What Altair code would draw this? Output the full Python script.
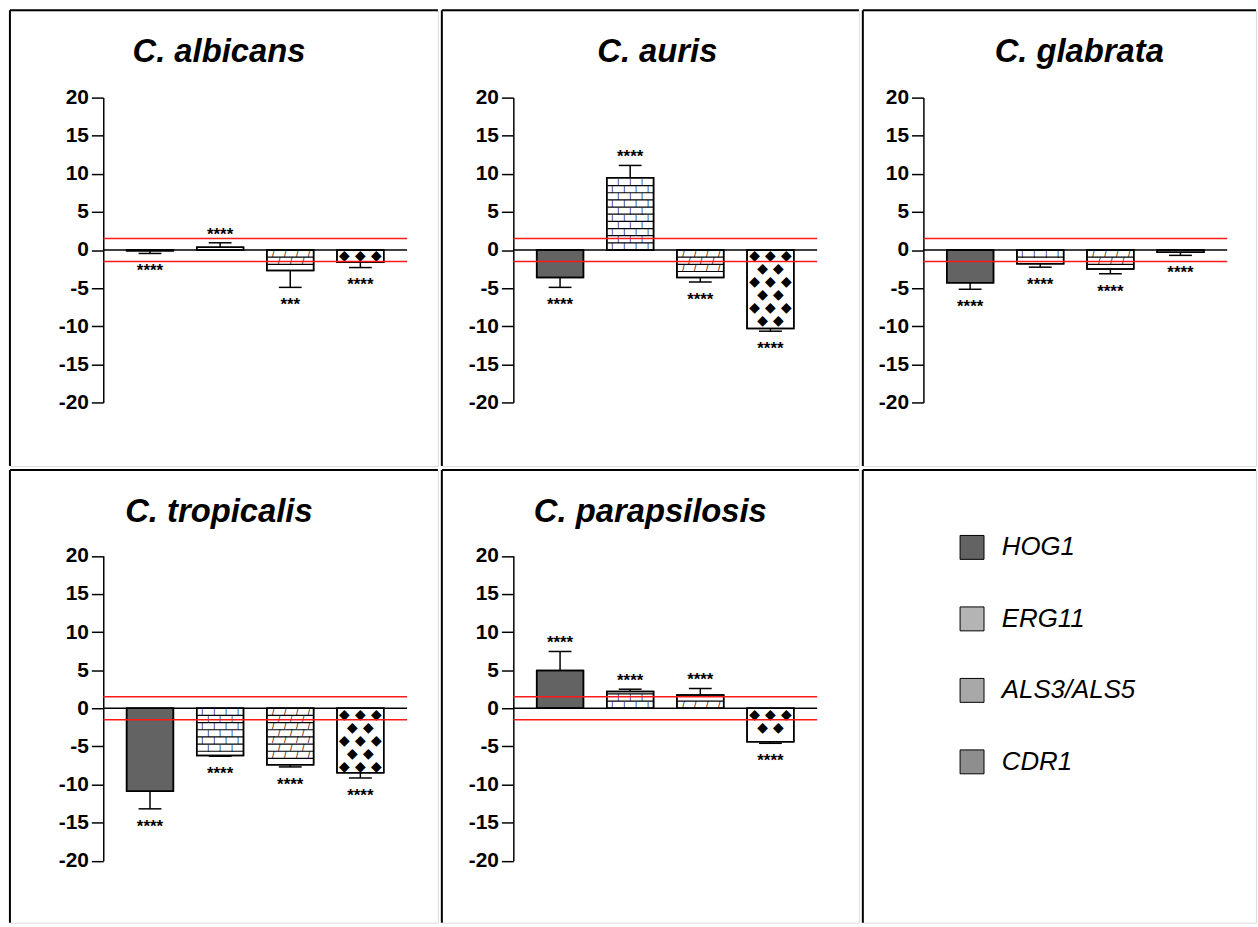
import altair as alt
import pandas as pd

# ---------------- data ----------------
GENES = ["HOG1", "ERG11", "ALS3/ALS5", "CDR1"]

albicans_mean = [-0.1, 0.35, -2.7, -1.6]
albicans_sd = [0.35, 0.6, 2.2, 0.7]
albicans_sig = ["****", "****", "***", "****"]

auris_mean = [-3.6, 9.5, -3.6, -10.3]
auris_sd = [1.3, 1.6, 0.6, 0.35]
auris_sig = ["****", "****", "****", "****"]

glabrata_mean = [-4.3, -1.8, -2.5, -0.3]
glabrata_sd = [0.85, 0.45, 0.6, 0.4]
glabrata_sig = ["****", "****", "****", "****"]

tropicalis_mean = [-10.9, -6.2, -7.4, -8.45]
tropicalis_sd = [2.3, 0.1, 0.3, 0.7]
tropicalis_sig = ["****", "****", "****", "****"]

parapsilosis_mean = [4.95, 2.2, 1.75, -4.4]
parapsilosis_sd = [2.5, 0.3, 0.85, 0.2]
parapsilosis_sig = ["****", "****", "****", "****"]

THRESHOLDS = [1.5, -1.5]
Y_TICKS = [-20, -15, -10, -5, 0, 5, 10, 15, 20]

# ---------------- styles / layout ----------------
BAR_FILLS = ["#636363", "white", "white", "white"]
LEGEND_FILLS = ["#636363", "#b4b4b4", "#a8a8a8", "#8e8e8e"]
COL_W = [431, 420, 396]
ROW_H = [459, 456]
AXIS_X = [94, 72, 61]
PLOT_W = 306
Y_RANGES = [[395, 88], [393.5, 86.5]]
FONT = "Liberation Sans"

# texture definitions (hatch-like overlays standing in for the fill patterns)
BRICK_STEP = 0.94
DIAMOND_STEP = 1.7


def borders(W, H):
    one = pd.DataFrame({"k": [0]})
    top = alt.Chart(one).mark_rule(color="black", strokeWidth=2).encode(
        x=alt.value(0), x2=alt.value(W), y=alt.value(0))
    left = alt.Chart(one).mark_rule(color="black", strokeWidth=2).encode(
        x=alt.value(0), y=alt.value(0), y2=alt.value(H))
    return [top, left]


def tex_rows(sub, x, Y, step, char, dxs, parity, size, font, margin=0.45):
    ch = sub.transform_calculate(
        lv=f"sequence(datum.dir*{step / 2}, datum.mean - datum.dir*{step * margin}, datum.dir*{step})"
    ).transform_flatten(["lv"]).transform_calculate(
        k=f"round(abs(datum.lv)/{step} - 0.5)"
    ).transform_filter(f"datum.k % 2 == {parity}")
    out = []
    for d in dxs:
        out.append(ch.mark_text(text=char, dx=d, fontSize=size, font=font,
                                baseline="middle", color="black").encode(
            x=x, y=Y("lv:Q")))
    return out


def tex_lines(sub, x, Y, step):
    return sub.transform_calculate(
        lv=f"sequence(datum.dir*{step}, datum.mean - datum.dir*0.2, datum.dir*{step})"
    ).transform_flatten(["lv"]).mark_tick(
        orient="horizontal", size=46, thickness=1.2, color="black", opacity=1
    ).encode(x=x, y=Y("lv:Q"))


def panel(title, means, sds, sigs, col, row, dx):
    W, H = COL_W[col], ROW_H[row]
    x0 = AXIS_X[col]
    x1 = x0 + PLOT_W
    df = pd.DataFrame({"gene": GENES, "mean": means, "sd": sds, "sig": sigs})
    base = alt.Chart(df).transform_calculate(
        dir="datum.mean >= 0 ? 1 : -1"
    ).transform_calculate(
        end="datum.mean + datum.dir * datum.sd",
        lab="datum.mean + datum.dir * (datum.sd + 1.7)",
    )
    x = alt.X("gene:N", sort=GENES,
              scale=alt.Scale(domain=GENES, range=[x0, x1],
                              paddingInner=0.333, paddingOuter=0.333),
              axis=None)
    yscale = alt.Scale(domain=[-20, 20], range=Y_RANGES[row], nice=False, zero=False)
    yaxis = alt.Axis(values=Y_TICKS, offset=-x0, title=None, grid=False,
                     domainColor="black", domainWidth=1.5,
                     tickColor="black", tickWidth=1.5, tickSize=12,
                     labelFont=FONT, labelFontSize=21,
                     labelFontWeight="bold", labelColor="black",
                     labelPadding=3, labelExpr="'' + datum.value")

    def Y(field):
        return alt.Y(field, scale=yscale, axis=yaxis)

    bars = base.mark_bar(stroke="black", strokeWidth=1.5).encode(
        x=x,
        y=Y("mean:Q"),
        y2=alt.Y2(datum=0),
        fill=alt.Fill("gene:N", scale=alt.Scale(domain=GENES, range=BAR_FILLS),
                      legend=None),
    )

    erg = base.transform_filter(alt.datum.gene == "ERG11")
    als = base.transform_filter(alt.datum.gene == "ALS3/ALS5")
    cdr = base.transform_filter(alt.datum.gene == "CDR1")
    textures = [tex_lines(erg, x, Y, BRICK_STEP)]
    textures += tex_rows(erg, x, Y, BRICK_STEP, "|", [-18, -6, 6, 18], 0, 8, FONT)
    textures += tex_rows(erg, x, Y, BRICK_STEP, "|", [-12, 0, 12], 1, 8, FONT)
    textures += [tex_lines(als, x, Y, BRICK_STEP)]
    textures += tex_rows(als, x, Y, BRICK_STEP, "/", [-17, -5, 7, 19], 0, 9, FONT)
    textures += tex_rows(als, x, Y, BRICK_STEP, "/", [-11, 1, 13], 1, 9, FONT)
    textures += tex_rows(cdr, x, Y, DIAMOND_STEP, "\u25c6", [-16, 0, 16], 0, 14,
                         "DejaVu Sans", margin=0.3)
    textures += tex_rows(cdr, x, Y, DIAMOND_STEP, "\u25c6", [-8, 8], 1, 14,
                         "DejaVu Sans", margin=0.3)

    outline = base.mark_bar(stroke="black", strokeWidth=1.5, fillOpacity=0).encode(
        x=x, y=Y("mean:Q"), y2=alt.Y2(datum=0))
    red = alt.Chart(pd.DataFrame({"level": THRESHOLDS})).mark_rule(
        color="#ff1a1a", strokeWidth=1.5).encode(
        x=alt.value(x0), x2=alt.value(x1), y=Y("level:Q"))
    zero = alt.Chart(pd.DataFrame({"level": [0]})).mark_rule(
        color="black", strokeWidth=1.5).encode(
        x=alt.value(x0), x2=alt.value(x1), y=Y("level:Q"))
    err = base.mark_rule(color="black", strokeWidth=1.5).encode(
        x=x, y=Y("mean:Q"), y2="end:Q")
    cap = base.mark_tick(color="black", thickness=1.5, size=23,
                         orient="horizontal", opacity=1).encode(
        x=x, y=Y("end:Q"))
    stars = base.mark_text(font=FONT, fontSize=17, fontWeight="bold",
                           baseline="alphabetic", dy=10, color="black").encode(
        x=x, y=Y("lab:Q"), text="sig:N")
    layers = [bars] + textures + [outline, red, zero, err, cap, stars] + borders(W, H)
    return alt.layer(*layers).properties(
        width=W, height=H,
        title=alt.TitleParams(text=title, font=FONT, fontSize=33,
                              fontStyle="italic", fontWeight="bold",
                              color="black", anchor="middle", frame="group",
                              baseline="alphabetic", offset=-86, dx=dx),
    )


def legend_cell():
    W, H = COL_W[2], ROW_H[1]
    df = pd.DataFrame({"gene": GENES})
    yl = alt.Y("gene:N", sort=GENES,
               scale=alt.Scale(domain=GENES, range=[78, 294], padding=0),
               axis=None)
    sq = alt.Chart(df).mark_square(size=580, stroke="black", strokeWidth=1,
                                   opacity=1).encode(
        x=alt.value(110), y=yl,
        fill=alt.Fill("gene:N", scale=alt.Scale(domain=GENES, range=LEGEND_FILLS),
                      legend=None))
    txt = alt.Chart(df).mark_text(align="left", baseline="middle", font=FONT,
                                  fontSize=26, fontStyle="italic",
                                  color="black").encode(
        x=alt.value(140), y=yl, text="gene:N")
    return alt.layer(*([sq, txt] + borders(W, H))).properties(width=W, height=H)


p1 = panel("C. albicans", albicans_mean, albicans_sd, albicans_sig, 0, 0, -5)
p2 = panel("C. auris", auris_mean, auris_sd, auris_sig, 1, 0, 7)
p3 = panel("C. glabrata", glabrata_mean, glabrata_sd, glabrata_sig, 2, 0, 20)
p4 = panel("C. tropicalis", tropicalis_mean, tropicalis_sd, tropicalis_sig, 0, 1, -5)
p5 = panel("C. parapsilosis", parapsilosis_mean, parapsilosis_sd, parapsilosis_sig, 1, 1, 0)
p6 = legend_cell()

chart = alt.concat(p1, p2, p3, p4, p5, p6, columns=3, spacing=0).resolve_scale(
    x="independent", y="independent", fill="independent"
).configure_view(stroke=None).configure(font=FONT).properties(
    padding={"left": 8, "top": 5, "right": 0, "bottom": 0}
)

chart.save("out.html", embed_options={"renderer": "svg", "actions": False})
